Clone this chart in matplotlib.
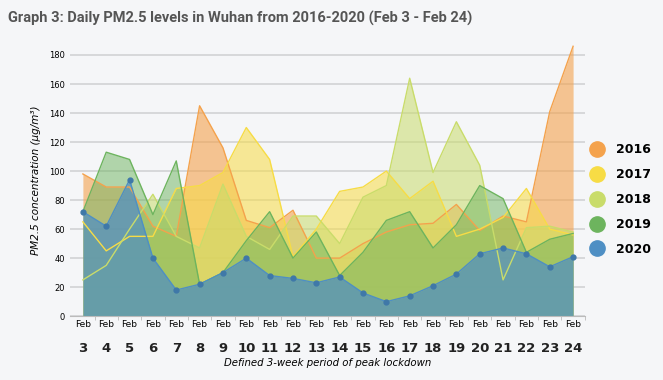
import matplotlib
matplotlib.use("Agg")
import matplotlib.pyplot as plt
from matplotlib.lines import Line2D
import numpy as np

days = list(range(3, 25))
years = ["2016", "2017", "2018", "2019", "2020"]

pm_2016 = [98, 89, 89, 62, 55, 145, 116, 66, 61, 73, 40, 40, 50, 58, 63, 64, 77, 59, 69, 65, 141, 186]
pm_2017 = [65, 45, 55, 55, 88, 90, 99, 130, 108, 41, 60, 86, 89, 100, 81, 93, 55, 60, 68, 88, 60, 56]
pm_2018 = [25, 35, 60, 84, 55, 47, 91, 55, 46, 69, 69, 50, 82, 90, 164, 99, 134, 104, 25, 61, 62, 58]
pm_2019 = [72, 113, 108, 70, 107, 22, 30, 52, 72, 40, 58, 28, 44, 66, 72, 47, 63, 90, 81, 44, 53, 57]
pm_2020 = [72, 62, 94, 40, 18, 22, 30, 40, 28, 26, 23, 27, 16, 10, 14, 21, 29, 43, 47, 43, 34, 41]

series = [pm_2016, pm_2017, pm_2018, pm_2019, pm_2020]
colors = ["#F4A24C", "#F7DC45", "#C9DC6A", "#6DB45E", "#4E8FC4"]
fill_alpha = [0.6, 0.55, 0.55, 0.5, 0.72]

bg = "#F5F6F8"
fig = plt.figure(figsize=(6.63, 3.80), dpi=100, facecolor=bg)
ax = fig.add_axes([0.106, 0.168, 0.776, 0.714])
ax.set_facecolor(bg)

x = np.arange(len(days))
for vals, col, a in zip(series, colors, fill_alpha):
    ax.fill_between(x, 0, vals, color=col, alpha=a, linewidth=0, zorder=2)
    ax.plot(x, vals, color=col, linewidth=1.0, zorder=3)
ax.plot(x, pm_2020, "o", color="#3F78A8", markersize=3.5, zorder=4)

ax.set_xlim(-0.54, 21.47)
ax.set_ylim(0, 187)
ax.set_yticks(range(0, 181, 20))
ax.yaxis.grid(True, color="#CFCFD2", linewidth=1.1, zorder=0)
ax.set_axisbelow(True)
ax.tick_params(axis="y", length=0, labelsize=6, pad=4)

ax.set_xticks(x)
ax.set_xticklabels(["Feb"] * len(days), fontsize=6.5)
ax.tick_params(axis="x", length=0, pad=3)
ax.set_xticks(x + 0.5, minor=True)
ax.tick_params(axis="x", which="minor", length=3, color="#BBBBBB")
for xi, d in zip(x, days):
    ax.text(xi, -0.095, str(d), transform=ax.get_xaxis_transform(),
            ha="center", va="top", fontsize=9.5, fontweight="bold", color="#222222")

for side in ["top", "right", "left"]:
    ax.spines[side].set_visible(False)
ax.spines["bottom"].set_color("#BBBBBB")

ax.set_ylabel("PM2.5 concentration (μg/m³)", fontsize=7.5, style="italic", labelpad=6)
ax.set_xlabel("Defined 3-week period of peak lockdown", fontsize=7.3, style="italic", labelpad=21)

handles = [Line2D([], [], marker="o", linestyle="", markersize=11,
                  markerfacecolor=c, markeredgecolor=c) for c in colors]
leg = fig.legend(handles, years, loc="center left", bbox_to_anchor=(0.865, 0.475),
                 frameon=False, fontsize=9, labelspacing=0.95, handletextpad=0.5)
for t in leg.get_texts():
    t.set_fontweight("bold")

fig.text(0.012, 0.952, "Graph 3: Daily PM2.5 levels in Wuhan from 2016-2020 (Feb 3 - Feb 24)",
         fontsize=10.5, fontweight="bold", color="#555555",
         ha="left", va="center", family="Roboto")

fig.savefig("out.png", dpi=100, facecolor=bg)
